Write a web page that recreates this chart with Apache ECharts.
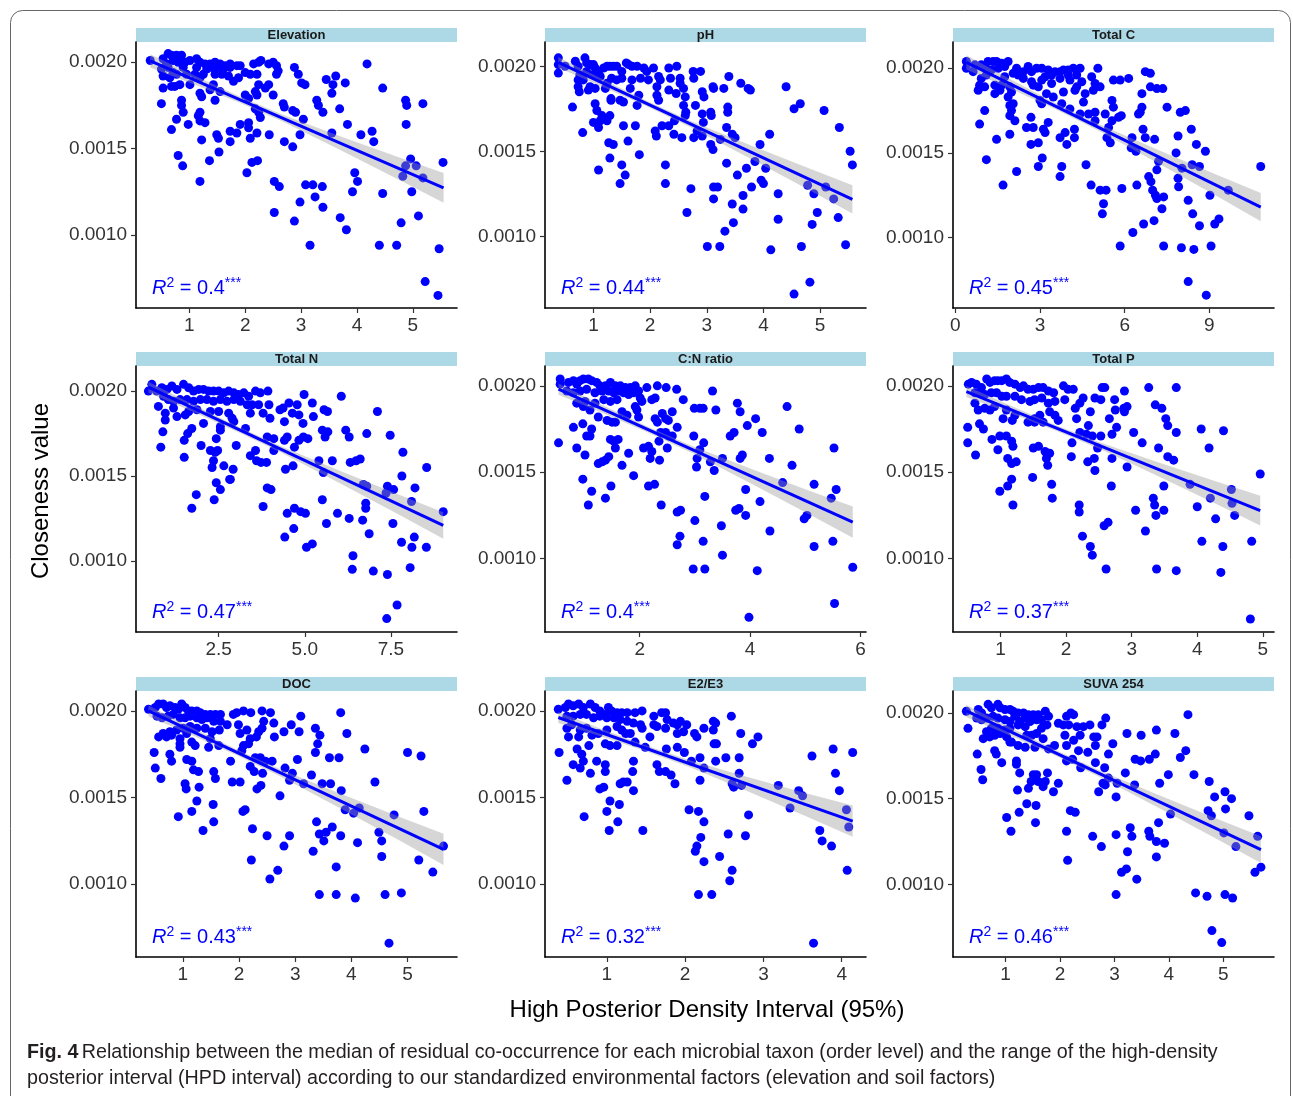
<!DOCTYPE html>
<html>
<head>
<meta charset="utf-8">
<script src="https://cdn.jsdelivr.net/npm/echarts@6/dist/echarts.min.js"></script>
<style>
html,body{margin:0;padding:0;background:#fff}
#main{width:1293px;height:1096px}
</style>
</head>
<body>
<div id="main"></div>
<script>
// ---- data: [HPD interval, closeness value] ----
var elevationPts = [[0.30,0.00201],[0.53,0.00202],[0.62,0.00205],[0.68,0.00204],[0.77,0.00204],[0.86,0.00204],[0.71,0.00201],[0.59,0.00199],[0.80,0.00200],[0.92,0.00200],[1.01,0.00201],[1.13,0.00202],[1.19,0.00200],[1.28,0.00199],[1.37,0.00199],[1.46,0.00200],[1.55,0.00199],[1.64,0.00198],[1.73,0.00199],[1.85,0.00198],[1.91,0.00198],[2.00,0.00194],[2.09,0.00193],[2.15,0.00199],[2.24,0.00200],[2.28,0.00201],[2.42,0.00199],[2.50,0.00200],[2.56,0.00198],[2.59,0.00195],[0.50,0.00196],[0.53,0.00192],[0.65,0.00191],[0.74,0.00186],[0.83,0.00187],[0.95,0.00193],[1.01,0.00187],[1.10,0.00193],[1.19,0.00191],[1.25,0.00193],[1.40,0.00197],[1.46,0.00193],[1.58,0.00193],[1.70,0.00192],[1.79,0.00189],[1.88,0.00191],[1.43,0.00187],[1.37,0.00184],[1.55,0.00183],[1.19,0.00182],[1.22,0.00180],[0.71,0.00194],[0.89,0.00197],[0.77,0.00193],[0.62,0.00197],[1.13,0.00197],[1.31,0.00196],[1.49,0.00197],[1.61,0.00196],[1.73,0.00197],[2.21,0.00193],[2.24,0.00187],[2.18,0.00183],[2.21,0.00181],[2.36,0.00185],[2.42,0.00187],[2.56,0.00193],[0.53,0.00185],[0.68,0.00186],
[0.50,0.00176],[0.86,0.00178],[0.86,0.00175],[0.89,0.00171],[0.77,0.00167],[0.68,0.00161],[0.98,0.00164],[1.19,0.00171],[1.16,0.00169],[1.19,0.00166],[1.28,0.00165],[1.22,0.00155],[1.46,0.00178],[1.49,0.00158],[1.52,0.00156],[1.73,0.00160],[1.85,0.00159],[1.73,0.00154],[1.91,0.00164],[2.06,0.00165],[2.06,0.00162],[2.09,0.00156],[2.21,0.00159],[2.00,0.00181],[2.06,0.00179],[2.18,0.00173],[2.24,0.00171],[2.27,0.00168],[2.43,0.00158],[2.50,0.00181],[2.68,0.00176],[2.70,0.00174],[2.70,0.00154],[2.85,0.00172],[2.90,0.00171],[2.85,0.00151],[2.98,0.00158],[3.04,0.00167],[2.88,0.00197],[2.95,0.00193],[3.01,0.00188],[3.07,0.00187],[3.28,0.00178],[3.31,0.00175],[3.39,0.00171],[3.45,0.00190],[3.55,0.00182],[3.57,0.00187],[3.62,0.00192],[3.69,0.00173],[3.79,0.00188],[3.55,0.00159],[3.83,0.00164],[4.07,0.00158],[4.27,0.00160],[4.30,0.00154],[4.18,0.00199],[4.46,0.00185],[4.87,0.00178],[4.89,0.00175],[5.18,0.00176],[4.88,0.00164],
[0.80,0.00146],[0.88,0.00140],[1.36,0.00143],[1.53,0.00148],[1.19,0.00131],[2.03,0.00136],[2.12,0.00142],[2.22,0.00143],[2.52,0.00131],[2.61,0.00128],[2.52,0.00113],[2.98,0.00119],[3.08,0.00129],[3.21,0.00129],[3.25,0.00122],[3.38,0.00128],[3.39,0.00116],[2.88,0.00108],[3.16,0.00094],[3.70,0.00110],[3.81,0.00103],[3.96,0.00136],[4.01,0.00131],[3.92,0.00125],[4.46,0.00124],[4.40,0.00094],[4.71,0.00094],[4.79,0.00107],[4.82,0.00134],[4.87,0.00140],[4.96,0.00144],[5.06,0.00140],[4.98,0.00125],[5.18,0.00133],[5.10,0.00111],[5.54,0.00142],[5.47,0.00092],[5.22,0.00073],[5.45,0.00065]];

var phPts = [[0.38,0.00205],[0.38,0.00201],[0.38,0.00196],[0.50,0.00200],[0.68,0.00203],[0.73,0.00200],[0.85,0.00205],[0.88,0.00202],[0.94,0.00201],[1.00,0.00201],[1.03,0.00199],[1.09,0.00197],[0.88,0.00197],[0.76,0.00195],[0.73,0.00192],[0.73,0.00188],[0.75,0.00185],[0.91,0.00186],[0.94,0.00188],[0.82,0.00192],[1.00,0.00195],[1.12,0.00194],[1.18,0.00199],[1.24,0.00200],[1.29,0.00200],[1.35,0.00200],[1.41,0.00200],[1.50,0.00197],[1.58,0.00202],[1.62,0.00201],[1.68,0.00200],[1.77,0.00200],[1.89,0.00199],[1.94,0.00197],[2.06,0.00199],[1.97,0.00192],[1.83,0.00193],[1.68,0.00192],[1.65,0.00187],[1.50,0.00193],[1.41,0.00192],[1.32,0.00193],[1.24,0.00190],[1.21,0.00187],[1.03,0.00187],[2.33,0.00199],[2.47,0.00200],[2.76,0.00197],[2.89,0.00197],[2.15,0.00194],[2.18,0.00192],[2.36,0.00193],[2.53,0.00193],[2.53,0.00190],[2.33,0.00186],[2.12,0.00188],[2.77,0.00193],[2.46,0.00184],[2.59,0.00187],[2.62,0.00182],[2.59,0.00177],[2.12,0.00183],[2.15,0.00180],[1.53,0.00179],[1.47,0.00180],[1.31,0.00180],[1.31,0.00181],[1.80,0.00183],[1.77,0.00177],
[0.63,0.00176],[1.03,0.00178],[1.06,0.00174],[1.15,0.00171],[1.12,0.00168],[1.24,0.00168],[1.29,0.00171],[1.00,0.00167],[1.09,0.00164],[0.81,0.00161],[1.53,0.00165],[1.74,0.00165],[1.27,0.00155],[1.35,0.00154],[1.61,0.00156],[2.09,0.00162],[2.11,0.00159],[2.21,0.00165],[2.33,0.00165],[2.43,0.00168],[2.42,0.00160],[2.56,0.00158],[2.63,0.00173],[2.62,0.00171],[2.80,0.00177],[2.83,0.00162],[2.77,0.00158],[2.92,0.00185],[2.95,0.00182],[2.92,0.00172],[3.07,0.00173],[3.08,0.00171],[2.94,0.00167],[2.92,0.00159],[3.07,0.00154],[3.11,0.00151],[3.11,0.00188],[3.12,0.00187],[3.30,0.00187],[3.39,0.00194],[3.60,0.00190],[3.73,0.00187],[3.77,0.00186],[3.37,0.00176],[3.37,0.00173],[3.35,0.00164],[3.24,0.00157],[3.45,0.00160],[3.50,0.00158],[4.11,0.00160],[3.94,0.00154],[4.40,0.00188],[4.54,0.00175],[4.65,0.00178],[5.07,0.00174],[5.34,0.00164],[5.53,0.00150],[5.57,0.00142],
[1.09,0.00139],[1.29,0.00146],[1.50,0.00142],[1.56,0.00136],[1.47,0.00131],[1.81,0.00148],[2.27,0.00142],[2.27,0.00131],[2.65,0.00114],[2.72,0.00128],[3.12,0.00129],[3.19,0.00129],[3.12,0.00122],[3.35,0.00143],[3.54,0.00136],[3.70,0.00140],[3.45,0.00119],[3.64,0.00124],[3.64,0.00116],[3.47,0.00108],[3.32,0.00103],[3.79,0.00129],[3.85,0.00144],[4.04,0.00140],[3.96,0.00133],[4.00,0.00131],[4.26,0.00125],[4.26,0.00110],[4.78,0.00130],[4.89,0.00125],[5.10,0.00129],[5.24,0.00122],[4.95,0.00114],[4.86,0.00107],[5.32,0.00111],[3.01,0.00094],[3.23,0.00094],[4.13,0.00092],[4.67,0.00094],[5.45,0.00095],[4.82,0.00073],[4.54,0.00066]];

var totalCPts = [[0.39,0.00204],[0.39,0.00200],[0.63,0.00198],[0.69,0.00202],[0.92,0.00202],[1.04,0.00201],[1.16,0.00204],[1.34,0.00204],[1.46,0.00204],[1.64,0.00203],[1.87,0.00204],[1.75,0.00201],[1.52,0.00200],[1.28,0.00199],[1.10,0.00196],[0.92,0.00194],[0.86,0.00190],[0.81,0.00187],[1.04,0.00189],[1.40,0.00190],[1.40,0.00185],[1.58,0.00187],[1.64,0.00190],[1.93,0.00189],[1.99,0.00186],[1.87,0.00183],[1.93,0.00178],[2.05,0.00179],[1.99,0.00175],[1.93,0.00172],[2.11,0.00169],[1.75,0.00195],[2.05,0.00197],[2.17,0.00200],[2.23,0.00196],[2.41,0.00198],[2.58,0.00201],[2.70,0.00198],[2.88,0.00200],[3.06,0.00200],[3.29,0.00199],[3.53,0.00198],[3.71,0.00198],[3.83,0.00199],[4.00,0.00199],[4.18,0.00200],[4.42,0.00200],[4.30,0.00196],[4.00,0.00196],[3.71,0.00194],[3.41,0.00191],[3.06,0.00193],[2.70,0.00192],[2.41,0.00194],[2.76,0.00190],[2.94,0.00189],[3.18,0.00195],[3.41,0.00196],[3.83,0.00186],[4.06,0.00193],[4.30,0.00189],[4.24,0.00187],[4.48,0.00192],[4.60,0.00185],[4.54,0.00180],[4.83,0.00195],[4.95,0.00191],[5.13,0.00189],[4.89,0.00187],[5.05,0.00200],[3.23,0.00185],[3.47,0.00183],[3.00,0.00181],[3.06,0.00179],[3.77,0.00179],[4.06,0.00176],[4.42,0.00173],[4.72,0.00173],[4.95,0.00174],[4.95,0.00169],[5.31,0.00173],[5.60,0.00193],[5.84,0.00193],[6.14,0.00194],[6.73,0.00198],[6.91,0.00197],[6.91,0.00189],[7.14,0.00188],[7.35,0.00188],[6.61,0.00185],[5.55,0.00181],[5.60,0.00177],[5.55,0.00169],[5.78,0.00171],[5.88,0.00172],
[1.04,0.00175],[0.86,0.00167],[1.46,0.00158],[1.93,0.00161],[2.68,0.00171],[2.52,0.00165],[2.76,0.00165],[3.12,0.00164],[3.18,0.00162],[3.29,0.00168],[2.68,0.00155],[2.94,0.00156],[3.71,0.00159],[3.89,0.00162],[3.95,0.00155],[4.22,0.00164],[4.22,0.00159],[5.37,0.00159],[5.49,0.00156],[5.43,0.00165],[6.26,0.00159],[6.23,0.00153],[6.40,0.00151],[6.49,0.00173],[6.55,0.00174],[6.61,0.00177],[6.65,0.00164],[6.73,0.00159],[7.06,0.00158],[7.50,0.00177],[7.97,0.00174],[8.15,0.00175],[7.89,0.00160],[8.36,0.00164],[7.82,0.00150],[7.20,0.00145],[7.14,0.00140],[8.54,0.00155],[8.86,0.00151],[8.03,0.00141],[8.39,0.00143],[8.65,0.00142],[10.82,0.00142],
[1.10,0.00146],[2.17,0.00139],[2.94,0.00142],[3.08,0.00147],[3.77,0.00142],[3.71,0.00136],[1.69,0.00131],[4.63,0.00143],[4.81,0.00131],[5.13,0.00128],[5.34,0.00128],[5.25,0.00120],[5.21,0.00114],[5.90,0.00129],[6.43,0.00131],[6.85,0.00136],[6.93,0.00133],[6.99,0.00128],[7.09,0.00125],[7.14,0.00123],[7.38,0.00124],[7.32,0.00117],[7.89,0.00135],[7.91,0.00130],[8.25,0.00122],[8.41,0.00114],[8.65,0.00107],[9.02,0.00125],[9.19,0.00108],[9.34,0.00111],[9.67,0.00128],[6.67,0.00108],[6.29,0.00103],[7.04,0.00110],[5.84,0.00095],[7.38,0.00095],[8.01,0.00094],[8.45,0.00093],[9.06,0.00095],[8.25,0.00074],[8.89,0.00066]];

var totalNPts = [[0.46,0.00200],[0.56,0.00204],[0.70,0.00200],[0.85,0.00202],[1.00,0.00201],[1.14,0.00203],[1.29,0.00201],[1.48,0.00204],[1.63,0.00202],[1.77,0.00200],[1.92,0.00201],[2.06,0.00201],[2.21,0.00200],[2.35,0.00200],[2.50,0.00200],[2.65,0.00199],[2.79,0.00200],[2.94,0.00199],[3.08,0.00198],[3.23,0.00199],[3.37,0.00197],[3.57,0.00200],[3.71,0.00199],[3.93,0.00200],[0.90,0.00197],[1.04,0.00195],[1.19,0.00194],[1.38,0.00195],[1.58,0.00195],[1.77,0.00194],[1.97,0.00195],[2.16,0.00195],[2.35,0.00194],[2.55,0.00195],[2.74,0.00194],[2.94,0.00195],[3.13,0.00194],[3.33,0.00192],[3.47,0.00192],[3.66,0.00192],[3.79,0.00187],[0.75,0.00191],[0.95,0.00187],[0.95,0.00183],[1.19,0.00190],[1.29,0.00185],[1.53,0.00186],[1.63,0.00188],[1.87,0.00189],[2.06,0.00181],[2.26,0.00188],[2.50,0.00188],[2.79,0.00187],[2.89,0.00184],[2.94,0.00182],[2.55,0.00179],[2.55,0.00177],[3.28,0.00178],[3.42,0.00187],[3.96,0.00192],[3.99,0.00184],[4.28,0.00189],[4.37,0.00190],[4.54,0.00193],[4.78,0.00192],[4.64,0.00187],[4.83,0.00186],[4.41,0.00182],[4.98,0.00198],[5.22,0.00193],[5.56,0.00189],[5.66,0.00188],[5.25,0.00185],[6.06,0.00197],[7.11,0.00188],
[0.88,0.00176],[0.82,0.00167],[1.50,0.00171],[1.60,0.00175],[1.72,0.00178],[1.50,0.00161],[1.99,0.00168],[2.26,0.00165],[2.31,0.00155],[2.35,0.00159],[2.40,0.00164],[2.47,0.00165],[2.43,0.00172],[2.65,0.00156],[2.92,0.00154],[3.01,0.00168],[2.84,0.00148],[3.42,0.00162],[3.57,0.00165],[3.60,0.00159],[3.73,0.00158],[3.89,0.00158],[3.91,0.00173],[4.10,0.00172],[4.10,0.00165],[4.41,0.00171],[4.49,0.00173],[4.70,0.00167],[4.44,0.00154],[4.66,0.00156],[4.83,0.00171],[4.96,0.00173],[5.09,0.00172],[4.95,0.00181],[5.51,0.00177],[5.67,0.00176],[5.59,0.00173],[5.54,0.00152],[5.41,0.00159],[5.80,0.00159],[6.19,0.00177],[6.29,0.00173],[6.32,0.00158],[6.49,0.00159],[6.61,0.00160],[6.80,0.00175],[7.48,0.00174],[7.85,0.00164],[8.54,0.00155],[7.82,0.00150],
[1.85,0.00139],[1.72,0.00131],[2.37,0.00136],[2.43,0.00146],[2.55,0.00142],[2.82,0.00148],[3.91,0.00143],[4.02,0.00142],[3.79,0.00132],[4.49,0.00128],[4.70,0.00131],[4.88,0.00129],[5.02,0.00128],[4.42,0.00114],[4.68,0.00119],[5.05,0.00108],[5.22,0.00110],[5.51,0.00136],[5.63,0.00122],[5.95,0.00128],[6.29,0.00125],[6.68,0.00124],[6.70,0.00145],[6.80,0.00144],[6.77,0.00134],[6.77,0.00131],[6.87,0.00116],[7.36,0.00140],[7.40,0.00144],[7.58,0.00142],[7.56,0.00122],[7.81,0.00111],[8.10,0.00135],[8.20,0.00143],[8.18,0.00114],[8.11,0.00108],[8.53,0.00108],[9.02,0.00129],[6.40,0.00103],[6.38,0.00095],[6.99,0.00094],[7.40,0.00092],[8.06,0.00096],[7.68,0.00074],[7.38,0.00066]];

var cnRatioPts = [[0.56,0.00204],[0.56,0.00201],[0.71,0.00202],[0.80,0.00203],[0.86,0.00201],[0.92,0.00203],[0.98,0.00204],[1.07,0.00204],[1.13,0.00203],[1.22,0.00202],[1.28,0.00200],[1.38,0.00200],[1.47,0.00202],[1.56,0.00200],[1.65,0.00200],[1.74,0.00199],[1.83,0.00199],[1.92,0.00200],[0.68,0.00197],[0.80,0.00196],[0.92,0.00197],[1.04,0.00198],[1.19,0.00196],[1.32,0.00197],[1.44,0.00197],[1.53,0.00196],[1.62,0.00197],[1.71,0.00196],[1.80,0.00195],[1.89,0.00196],[1.98,0.00197],[2.01,0.00193],[2.13,0.00199],[2.32,0.00200],[2.48,0.00199],[2.67,0.00198],[2.79,0.00192],[2.28,0.00193],[2.22,0.00192],[2.04,0.00191],[1.92,0.00188],[1.95,0.00186],[0.86,0.00190],[0.98,0.00188],[1.10,0.00186],[1.01,0.00191],[1.19,0.00190],[1.35,0.00192],[1.47,0.00191],[1.59,0.00192],[1.68,0.00185],[1.77,0.00183],[1.25,0.00182],[1.41,0.00180],[1.50,0.00179],[1.56,0.00179],[1.98,0.00182],[2.28,0.00181],[2.32,0.00179],[2.47,0.00181],[2.52,0.00180],[2.41,0.00184],[2.59,0.00185],[3.32,0.00197],[2.99,0.00187],[3.09,0.00187],[3.15,0.00187],[3.38,0.00186],[3.77,0.00190],[3.82,0.00185],[4.10,0.00181],[3.95,0.00177],[4.22,0.00173],[4.67,0.00188],[4.89,0.00175],
[0.53,0.00167],[0.86,0.00164],[0.80,0.00176],[0.97,0.00178],[1.13,0.00175],[1.10,0.00171],[1.04,0.00171],[1.01,0.00160],[1.25,0.00155],[1.32,0.00156],[1.38,0.00157],[1.44,0.00159],[1.47,0.00169],[1.53,0.00168],[1.56,0.00164],[1.61,0.00169],[1.68,0.00154],[1.80,0.00161],[1.89,0.00148],[2.07,0.00164],[2.16,0.00165],[2.22,0.00162],[2.19,0.00158],[2.36,0.00157],[2.38,0.00173],[2.35,0.00168],[2.47,0.00173],[2.53,0.00171],[2.59,0.00171],[2.68,0.00176],[2.50,0.00164],[2.98,0.00171],[3.16,0.00167],[3.09,0.00163],[3.04,0.00158],[3.03,0.00153],[3.28,0.00156],[3.35,0.00151],[3.50,0.00158],[3.64,0.00171],[3.71,0.00173],[3.82,0.00158],[3.86,0.00160],[4.35,0.00158],[4.76,0.00154],[5.52,0.00164],
[0.97,0.00146],[1.13,0.00139],[1.07,0.00131],[1.38,0.00135],[1.48,0.00142],[2.16,0.00142],[2.27,0.00143],[2.39,0.00131],[2.68,0.00127],[2.74,0.00128],[3.00,0.00122],[3.18,0.00136],[3.48,0.00119],[3.15,0.00110],[2.68,0.00108],[2.73,0.00113],[3.50,0.00102],[3.74,0.00128],[3.80,0.00129],[3.92,0.00125],[3.92,0.00140],[4.18,0.00133],[4.36,0.00116],[4.59,0.00144],[4.98,0.00123],[5.03,0.00125],[5.16,0.00143],[5.56,0.00140],[5.47,0.00135],[5.50,0.00110],[5.16,0.00107],[2.97,0.00094],[3.18,0.00094],[4.13,0.00093],[5.86,0.00095],[5.53,0.00074],[3.98,0.00066]];

var totalPPts = [[0.51,0.00201],[0.56,0.00202],[0.63,0.00201],[0.71,0.00199],[0.79,0.00204],[0.84,0.00202],[0.91,0.00203],[0.96,0.00203],[1.02,0.00203],[1.09,0.00204],[1.14,0.00202],[1.22,0.00201],[1.30,0.00199],[1.35,0.00200],[1.42,0.00198],[1.50,0.00198],[1.58,0.00199],[1.65,0.00199],[1.73,0.00197],[1.81,0.00196],[1.96,0.00200],[2.03,0.00198],[2.11,0.00198],[0.61,0.00196],[0.68,0.00196],[0.76,0.00195],[0.86,0.00196],[0.94,0.00196],[1.02,0.00194],[1.09,0.00194],[1.22,0.00194],[1.32,0.00192],[1.45,0.00191],[1.52,0.00192],[1.63,0.00193],[1.73,0.00190],[1.83,0.00191],[1.98,0.00192],[2.14,0.00187],[2.21,0.00190],[2.26,0.00193],[2.44,0.00193],[2.53,0.00192],[2.55,0.00199],[2.59,0.00199],[2.74,0.00192],[2.89,0.00197],[0.61,0.00190],[0.66,0.00186],[0.76,0.00187],[0.84,0.00186],[0.91,0.00188],[1.09,0.00186],[1.22,0.00183],[1.45,0.00180],[1.52,0.00181],[1.60,0.00183],[1.65,0.00179],[1.75,0.00185],[1.83,0.00183],[1.88,0.00180],[1.52,0.00179],[1.42,0.00179],[1.04,0.00181],[1.18,0.00180],[2.16,0.00181],[2.21,0.00173],[2.31,0.00172],[2.37,0.00185],[2.34,0.00177],[2.40,0.00171],[2.53,0.00171],[2.66,0.00181],[2.75,0.00186],[2.77,0.00176],[2.70,0.00172],[2.88,0.00187],[2.93,0.00188],[2.89,0.00185],[3.26,0.00199],[3.36,0.00189],[3.46,0.00187],[3.52,0.00181],[3.55,0.00177],[3.68,0.00199],[3.68,0.00173],
[0.50,0.00176],[0.50,0.00167],[0.62,0.00160],[0.68,0.00178],[0.74,0.00175],[0.87,0.00169],[0.96,0.00163],[0.99,0.00171],[1.09,0.00171],[1.17,0.00168],[1.19,0.00165],[1.11,0.00158],[1.17,0.00155],[1.24,0.00156],[1.50,0.00164],[1.58,0.00165],[1.68,0.00162],[1.75,0.00161],[1.70,0.00158],[1.72,0.00154],[2.09,0.00167],[2.08,0.00159],[2.33,0.00156],[2.43,0.00158],[2.44,0.00151],[2.48,0.00164],[2.70,0.00158],[2.93,0.00153],[3.03,0.00173],[3.16,0.00167],[3.41,0.00164],[3.55,0.00159],[3.64,0.00157],[4.06,0.00175],[4.18,0.00164],[4.40,0.00174],[4.96,0.00149],
[0.99,0.00139],[1.11,0.00142],[1.17,0.00146],[1.19,0.00131],[1.49,0.00147],[1.78,0.00143],[1.79,0.00135],[2.20,0.00131],[2.20,0.00127],[2.25,0.00113],[2.37,0.00107],[2.40,0.00102],[2.69,0.00142],[2.58,0.00119],[2.64,0.00121],[3.06,0.00128],[3.21,0.00116],[3.33,0.00135],[3.35,0.00131],[3.37,0.00125],[3.49,0.00128],[3.49,0.00142],[3.89,0.00143],[4.00,0.00130],[4.20,0.00135],[4.28,0.00123],[4.52,0.00140],[4.53,0.00132],[4.57,0.00125],[4.07,0.00110],[4.39,0.00107],[4.83,0.00110],[2.61,0.00094],[3.38,0.00094],[3.68,0.00093],[4.36,0.00092],[4.81,0.00065]];

var docPts = [[0.39,0.00201],[0.51,0.00202],[0.57,0.00204],[0.65,0.00204],[0.71,0.00202],[0.77,0.00203],[0.86,0.00202],[0.92,0.00201],[0.98,0.00204],[1.04,0.00202],[1.10,0.00200],[1.16,0.00200],[1.25,0.00200],[1.31,0.00199],[1.40,0.00198],[1.49,0.00198],[1.58,0.00198],[1.67,0.00198],[0.54,0.00197],[0.63,0.00196],[0.74,0.00197],[0.83,0.00198],[0.95,0.00196],[1.04,0.00196],[1.13,0.00197],[1.25,0.00196],[1.34,0.00195],[1.43,0.00196],[1.55,0.00194],[1.67,0.00194],[1.79,0.00192],[1.90,0.00198],[1.96,0.00199],[2.08,0.00200],[2.21,0.00199],[2.41,0.00200],[2.56,0.00199],[2.44,0.00194],[2.62,0.00193],[1.99,0.00192],[2.14,0.00189],[2.02,0.00187],[1.65,0.00189],[1.52,0.00188],[1.40,0.00190],[1.25,0.00190],[1.13,0.00191],[1.01,0.00190],[0.89,0.00189],[0.77,0.00188],[0.65,0.00187],[0.57,0.00185],[0.71,0.00185],[0.80,0.00186],[0.95,0.00184],[1.07,0.00187],[1.16,0.00182],[1.22,0.00180],[1.49,0.00184],[1.64,0.00180],[1.46,0.00179],[1.16,0.00171],[1.19,0.00166],[1.28,0.00165],[0.95,0.00181],[0.95,0.00179],[1.07,0.00172],[1.55,0.00165],[1.58,0.00161],[1.85,0.00171],[1.88,0.00159],[2.02,0.00159],[2.05,0.00177],[2.08,0.00180],[2.17,0.00181],[2.20,0.00184],[2.31,0.00185],[2.35,0.00188],[2.41,0.00190],[2.63,0.00185],[2.80,0.00188],[2.93,0.00192],[3.07,0.00188],[3.10,0.00197],[3.36,0.00190],[3.44,0.00186],[3.40,0.00181],[3.36,0.00176],[3.81,0.00199],[3.92,0.00187],[2.29,0.00173],[2.38,0.00173],[2.47,0.00171],[2.59,0.00171],[2.20,0.00168],[2.27,0.00165],[2.42,0.00164],[2.32,0.00155],[2.39,0.00157],[2.82,0.00167],[2.95,0.00164],[2.90,0.00160],[3.15,0.00158],[3.29,0.00163],[3.61,0.00173],[3.78,0.00173],[3.48,0.00158],[3.63,0.00158],[3.82,0.00154],[4.24,0.00178],[4.42,0.00159],[5.00,0.00176],[5.24,0.00174],[2.73,0.00151],[3.04,0.00172],
[0.49,0.00176],[0.51,0.00167],[0.61,0.00161],[0.77,0.00175],[0.80,0.00171],[1.04,0.00158],[1.06,0.00155],[1.29,0.00156],[1.25,0.00148],[1.16,0.00142],[0.92,0.00139],[1.36,0.00131],[1.54,0.00146],[1.55,0.00136],[2.07,0.00142],[2.11,0.00143],[2.24,0.00132],[2.50,0.00128],[2.90,0.00128],[2.80,0.00122],[2.22,0.00114],[2.55,0.00103],[2.69,0.00108],[3.38,0.00136],[3.43,0.00129],[3.51,0.00125],[3.55,0.00130],[3.66,0.00133],[3.81,0.00128],[3.73,0.00110],[3.32,0.00119],[3.89,0.00143],[4.04,0.00141],[4.14,0.00144],[4.11,0.00124],[4.49,0.00130],[4.54,0.00125],[4.54,0.00116],[4.76,0.00140],[5.29,0.00142],[5.20,0.00114],[5.45,0.00107],[5.64,0.00122],[3.43,0.00094],[3.73,0.00094],[4.07,0.00092],[4.60,0.00094],[4.89,0.00095],[4.67,0.00066]];

var e2e3Pts = [[0.38,0.00201],[0.47,0.00202],[0.51,0.00204],[0.57,0.00203],[0.64,0.00204],[0.70,0.00202],[0.79,0.00204],[0.85,0.00202],[0.91,0.00200],[0.98,0.00198],[1.02,0.00202],[1.06,0.00200],[1.13,0.00199],[1.19,0.00199],[1.26,0.00199],[1.36,0.00199],[1.45,0.00200],[0.49,0.00197],[0.57,0.00197],[0.66,0.00198],[0.74,0.00198],[0.83,0.00196],[0.91,0.00197],[1.00,0.00196],[1.09,0.00196],[1.17,0.00195],[1.26,0.00194],[1.34,0.00193],[1.43,0.00192],[1.45,0.00190],[1.60,0.00197],[1.60,0.00192],[1.70,0.00199],[1.75,0.00199],[1.77,0.00195],[1.64,0.00191],[1.75,0.00190],[1.85,0.00193],[1.90,0.00192],[1.94,0.00194],[2.02,0.00192],[1.98,0.00188],[1.90,0.00187],[2.12,0.00187],[2.15,0.00185],[2.24,0.00190],[2.36,0.00194],[2.39,0.00193],[2.36,0.00189],[2.59,0.00197],[0.49,0.00190],[0.55,0.00192],[0.51,0.00185],[0.64,0.00185],[0.66,0.00189],[0.74,0.00190],[0.81,0.00186],[0.89,0.00187],[1.00,0.00189],[1.13,0.00191],[1.19,0.00189],[1.24,0.00187],[1.30,0.00187],[1.36,0.00182],[0.98,0.00181],[1.04,0.00180],[1.13,0.00180],[0.62,0.00178],[0.77,0.00180],[0.68,0.00175],[0.70,0.00171],[0.57,0.00169],[0.66,0.00167],[0.79,0.00164],[0.87,0.00171],[0.98,0.00169],[0.98,0.00165],[1.34,0.00171],[1.33,0.00165],[1.21,0.00159],[1.17,0.00158],[1.26,0.00159],[1.34,0.00154],[1.49,0.00179],[1.55,0.00185],[1.64,0.00169],[1.67,0.00165],[1.75,0.00165],[1.76,0.00178],[1.82,0.00163],[1.87,0.00158],[1.90,0.00179],[1.99,0.00176],[2.08,0.00171],[2.19,0.00173],[2.24,0.00167],[2.19,0.00160],[2.37,0.00181],[2.40,0.00181],[2.39,0.00171],[2.52,0.00173],[2.69,0.00173],[2.69,0.00164],[2.60,0.00158],[2.62,0.00156],[2.72,0.00157],[2.71,0.00187],[2.86,0.00181],[2.93,0.00185],[3.19,0.00157],[3.45,0.00154],[3.50,0.00151],[3.34,0.00144],[3.62,0.00174],[3.89,0.00178],[3.92,0.00164],[3.97,0.00154],[4.14,0.00176],[4.06,0.00143],[4.09,0.00133],
[0.39,0.00176],[0.49,0.00160],[0.71,0.00139],[0.91,0.00155],[0.96,0.00156],[1.00,0.00142],[1.04,0.00148],[1.16,0.00146],[1.03,0.00131],[1.14,0.00136],[1.46,0.00131],[2.05,0.00143],[2.17,0.00142],[2.24,0.00136],[2.20,0.00127],[2.15,0.00122],[2.13,0.00119],[2.24,0.00113],[2.44,0.00116],[2.55,0.00129],[2.60,0.00108],[2.57,0.00102],[2.77,0.00128],[2.81,0.00140],[3.72,0.00131],[3.75,0.00125],[3.87,0.00122],[4.07,0.00108],[2.17,0.00094],[2.34,0.00094],[3.64,0.00066]];

var suvaPts = [[0.28,0.00201],[0.31,0.00191],[0.50,0.00202],[0.56,0.00200],[0.68,0.00205],[0.74,0.00203],[0.86,0.00205],[0.90,0.00203],[0.99,0.00202],[1.08,0.00202],[1.14,0.00201],[1.23,0.00200],[1.33,0.00200],[1.42,0.00199],[1.51,0.00199],[1.60,0.00199],[1.73,0.00201],[1.79,0.00198],[0.47,0.00197],[0.56,0.00196],[0.65,0.00197],[0.77,0.00198],[0.86,0.00197],[0.99,0.00196],[1.08,0.00195],[1.17,0.00198],[1.26,0.00195],[1.36,0.00197],[1.45,0.00195],[1.57,0.00196],[1.66,0.00196],[1.76,0.00193],[1.66,0.00191],[1.57,0.00188],[1.48,0.00187],[1.36,0.00192],[1.23,0.00193],[1.08,0.00191],[0.99,0.00190],[0.86,0.00191],[0.74,0.00191],[0.65,0.00189],[0.59,0.00185],[0.71,0.00186],[0.80,0.00187],[0.90,0.00188],[1.02,0.00186],[1.11,0.00183],[1.23,0.00181],[1.36,0.00180],[1.39,0.00187],[1.54,0.00180],[1.69,0.00185],[1.79,0.00179],[1.90,0.00181],[1.97,0.00194],[2.06,0.00193],[2.12,0.00198],[2.20,0.00200],[2.25,0.00199],[2.16,0.00193],[2.09,0.00187],[2.12,0.00181],[2.25,0.00184],[2.31,0.00192],[2.37,0.00187],[2.43,0.00192],[2.55,0.00193],[2.62,0.00186],[2.65,0.00181],[2.68,0.00186],[2.77,0.00193],[2.84,0.00197],[2.51,0.00177],[2.34,0.00178],[0.48,0.00176],[0.55,0.00167],[0.58,0.00161],[0.80,0.00178],[0.83,0.00176],[0.93,0.00171],[1.08,0.00183],[1.20,0.00172],[1.20,0.00170],[1.26,0.00165],[1.22,0.00155],[1.42,0.00156],[1.47,0.00160],[1.51,0.00164],[1.57,0.00164],[1.60,0.00160],[1.73,0.00160],[1.69,0.00157],[1.77,0.00165],[1.88,0.00154],[1.97,0.00159],[2.12,0.00172],[2.23,0.00173],[2.38,0.00168],[2.65,0.00171],[2.82,0.00168],[2.89,0.00176],[2.97,0.00182],[2.79,0.00159],[2.71,0.00154],[2.83,0.00158],[2.89,0.00162],[3.05,0.00159],[3.03,0.00151],[3.20,0.00165],[3.37,0.00158],[3.23,0.00188],[3.49,0.00187],[3.38,0.00173],[3.48,0.00172],[3.64,0.00173],[3.75,0.00176],[3.77,0.00190],[3.83,0.00159],[3.99,0.00164],[4.11,0.00188],[4.21,0.00174],[4.31,0.00178],[4.46,0.00164],[4.74,0.00160],[4.84,0.00151],[5.03,0.00154],[5.15,0.00150],[4.35,0.00199],
[1.02,0.00139],[1.10,0.00131],[1.25,0.00142],[1.39,0.00147],[1.56,0.00146],[1.55,0.00136],[2.12,0.00131],[2.14,0.00114],[2.19,0.00143],[2.28,0.00142],[2.60,0.00128],[2.76,0.00122],[3.03,0.00129],[3.24,0.00119],[3.29,0.00133],[3.32,0.00128],[3.63,0.00131],[3.65,0.00128],[3.77,0.00125],[3.81,0.00136],[3.92,0.00124],[3.77,0.00116],[3.13,0.00107],[3.22,0.00109],[3.41,0.00103],[4.03,0.00141],[4.72,0.00143],[4.78,0.00140],[5.01,0.00130],[5.04,0.00144],[5.23,0.00122],[5.47,0.00140],[5.63,0.00128],[5.58,0.00107],[5.69,0.00110],[3.03,0.00094],[4.49,0.00095],[4.70,0.00093],[5.03,0.00094],[5.17,0.00092],[4.79,0.00073],[4.97,0.00066]];

var panelNames = ['Elevation', 'pH', 'Total C', 'Total N', 'C:N ratio', 'Total P', 'DOC', 'E2/E3', 'SUVA 254'];
var panelPoints = [elevationPts, phPts, totalCPts, totalNPts, cnRatioPts, totalPPts, docPts, e2e3Pts, suvaPts];
var r2Labels = ['0.4', '0.44', '0.45', '0.47', '0.4', '0.37', '0.43', '0.32', '0.46'];

// fitted line ends [x0, y0, x1, y1]
var fitLines = [
  [0.30, 0.002008, 5.55, 0.001273],
  [0.38, 0.002023, 5.57, 0.001217],
  [0.39, 0.002035, 10.82, 0.001180],
  [0.46, 0.002023, 9.02, 0.001209],
  [0.53, 0.001981, 5.86, 0.001211],
  [0.48, 0.001967, 4.96, 0.001278],
  [0.39, 0.002000, 5.64, 0.001201],
  [0.38, 0.001962, 4.14, 0.001364],
  [0.28, 0.002012, 5.69, 0.001203]
];
// 95% confidence band: half width around the fit at a few x positions
var bandX = [
  [0.30, 1.09, 1.88, 2.66, 3.71, 4.76, 5.55],
  [0.38, 1.16, 1.94, 2.72, 3.75, 4.79, 5.57],
  [0.39, 1.95, 3.52, 5.08, 7.17, 9.26, 10.82],
  [0.46, 1.74, 3.03, 4.31, 6.02, 7.74, 9.02],
  [0.53, 1.33, 2.13, 2.93, 3.99, 5.06, 5.86],
  [0.48, 1.15, 1.82, 2.50, 3.39, 4.29, 4.96],
  [0.39, 1.18, 1.97, 2.75, 3.80, 4.85, 5.64],
  [0.38, 0.94, 1.51, 2.07, 2.82, 3.58, 4.14],
  [0.28, 1.09, 1.90, 2.71, 3.80, 4.88, 5.69]
];
var bandHalf = [
  [0.000038, 0.000026, 0.000018, 0.000020, 0.000040, 0.000065, 0.000086],
  [0.000032, 0.000022, 0.000016, 0.000019, 0.000039, 0.000063, 0.000083],
  [0.000042, 0.000028, 0.000018, 0.000020, 0.000039, 0.000063, 0.000083],
  [0.000032, 0.000022, 0.000016, 0.000018, 0.000037, 0.000059, 0.000078],
  [0.000032, 0.000022, 0.000017, 0.000020, 0.000042, 0.000068, 0.000090],
  [0.000032, 0.000022, 0.000016, 0.000019, 0.000040, 0.000065, 0.000086],
  [0.000032, 0.000022, 0.000017, 0.000020, 0.000042, 0.000068, 0.000090],
  [0.000032, 0.000022, 0.000017, 0.000020, 0.000042, 0.000068, 0.000090],
  [0.000035, 0.000024, 0.000017, 0.000019, 0.000037, 0.000059, 0.000078]
];

var xTickValues = [[1,2,3,4,5],[1,2,3,4,5],[0,3,6,9],[2.5,5,7.5],[2,4,6],[1,2,3,4,5],[1,2,3,4,5],[1,2,3,4],[1,2,3,4,5]];
var yTickValues = [0.0010, 0.0015, 0.0020];
var xRanges = [[0.045,5.79],[0.145,5.81],[-0.083,11.29],[0.10,9.42],[0.285,6.10],[0.276,5.17],[0.167,5.88],[0.21,4.31],[0.035,5.93]];
var yRanges = [[0.000577,0.002117],[0.000578,0.002143],[0.000584,0.002155],[0.000581,0.002148],[0.000575,0.002115],[0.000575,0.002115],[0.000580,0.002115],[0.000580,0.002115],[0.000576,0.002128]];

// ---- chart ----
(function () {
  var chart = echarts.init(document.getElementById('main'));
  var FONT = '"Liberation Sans", Arial, Helvetica, sans-serif';
  var colLeft = [136, 545, 953];
  var rowTop = [42, 366, 691];
  var W = 321, H = 266;

  var grids = [], xAxes = [], yAxes = [], series = [], graphics = [];

  function bandRenderer(k) {
    return function (params, api) {
      var f = fitLines[k], xs = bandX[k], hs = bandHalf[k];
      var upper = [], lower = [];
      for (var j = 0; j < xs.length; j++) {
        var yf = f[1] + (f[3] - f[1]) * (xs[j] - f[0]) / (f[2] - f[0]);
        upper.push(api.coord([xs[j], yf + hs[j]]));
        lower.unshift(api.coord([xs[j], yf - hs[j]]));
      }
      return {
        type: 'polygon',
        shape: { points: upper.concat(lower) },
        style: { fill: 'rgba(153,153,153,0.4)' }
      };
    };
  }

  for (var k = 0; k < 9; k++) {
    var gLeft = colLeft[k % 3], gTop = rowTop[Math.floor(k / 3)];
    var xDec = k === 3 ? 1 : 0;
    grids.push({ left: gLeft, top: gTop, width: W, height: H });
    xAxes.push({
      type: 'value', gridIndex: k, min: xRanges[k][0], max: xRanges[k][1],
      axisLine: { show: true, onZero: false, lineStyle: { color: '#000', width: 1.6 } },
      axisTick: { show: true, length: 5, lineStyle: { color: '#333', width: 1.2 }, customValues: xTickValues[k] },
      axisLabel: {
        customValues: xTickValues[k], margin: 8, color: '#333', fontSize: 19, fontFamily: FONT,
        formatter: (function (d) { return function (v) { return Number(v).toFixed(d); }; })(xDec)
      },
      splitLine: { show: false }
    });
    yAxes.push({
      type: 'value', gridIndex: k, min: yRanges[k][0], max: yRanges[k][1],
      axisLine: { show: true, onZero: false, lineStyle: { color: '#000', width: 1.6 } },
      axisTick: { show: true, length: 5, lineStyle: { color: '#333', width: 1.2 }, customValues: yTickValues },
      axisLabel: {
        customValues: yTickValues, margin: 9, color: '#333', fontSize: 19, fontFamily: FONT,
        formatter: function (v) { return Number(v).toFixed(4); }
      },
      splitLine: { show: false }
    });

    series.push({
      type: 'scatter', xAxisIndex: k, yAxisIndex: k, data: panelPoints[k],
      symbolSize: 9, itemStyle: { color: '#0000FF', opacity: 1 }, z: 2, silent: true
    });
    series.push({
      type: 'custom', xAxisIndex: k, yAxisIndex: k,
      data: [[fitLines[k][0], fitLines[k][1]]],
      renderItem: bandRenderer(k), z: 3, silent: true
    });
    series.push({
      type: 'line', xAxisIndex: k, yAxisIndex: k,
      data: [[fitLines[k][0], fitLines[k][1]], [fitLines[k][2], fitLines[k][3]]],
      showSymbol: false, symbol: 'none', lineStyle: { color: '#0000FF', width: 3 }, z: 4, silent: true
    });

    // facet strip
    graphics.push({
      type: 'rect', shape: { x: gLeft, y: gTop - 14, width: W, height: 14 },
      style: { fill: '#ADD8E6' }, silent: true
    });
    graphics.push({
      type: 'text', style: {
        x: gLeft + W / 2, y: gTop - 7, text: panelNames[k], align: 'center', verticalAlign: 'middle',
        font: 'bold 13px ' + FONT, fill: '#1a1a1a'
      }, silent: true
    });
    // R^2 annotation
    graphics.push({
      type: 'text', style: {
        x: gLeft + 16, y: gTop + 246, verticalAlign: 'middle',
        text: '{i|R}{s|2}{n| = ' + r2Labels[k] + '}{s|***}',
        rich: {
          i: { fontStyle: 'italic', fontSize: 20, fontFamily: FONT, fill: '#0000FF', lineHeight: 23 },
          n: { fontSize: 20, fontFamily: FONT, fill: '#0000FF', lineHeight: 23 },
          s: { fontSize: 14, fontFamily: FONT, fill: '#0000FF', verticalAlign: 'top', lineHeight: 23 }
        }
      }, silent: true
    });
  }

  // frame, axis titles, caption
  graphics.push({
    type: 'rect', shape: { x: 10.5, y: 10.5, width: 1280, height: 1100, r: 12 },
    style: { fill: 'none', stroke: '#666', lineWidth: 1 }, silent: true
  });
  graphics.push({
    type: 'text', x: 41, y: 491, rotation: Math.PI / 2,
    style: { x: 0, y: 0, text: 'Closeness value', align: 'center', verticalAlign: 'middle', font: '24px ' + FONT, fill: '#000' }
  });
  graphics.push({
    type: 'text',
    style: { x: 707, y: 1010, text: 'High Posterior Density Interval (95%)', align: 'center', verticalAlign: 'middle', font: '24px ' + FONT, fill: '#000' }
  });
  graphics.push({
    type: 'text',
    style: {
      x: 27, y: 1053, verticalAlign: 'middle',
      text: '{b|Fig. 4} {n|Relationship between the median of residual co-occurrence for each microbial taxon (order level) and the range of the high-density}',
      rich: {
        b: { fontWeight: 'bold', fontSize: 19.7, fontFamily: FONT, fill: '#231f20' },
        n: { fontSize: 19.7, fontFamily: FONT, fill: '#231f20' }
      }
    }
  });
  graphics.push({
    type: 'text',
    style: {
      x: 27, y: 1079, verticalAlign: 'middle',
      text: 'posterior interval (HPD interval) according to our standardized environmental factors (elevation and soil factors)',
      font: '19.7px ' + FONT, fill: '#231f20'
    }
  });

  chart.setOption({
    animation: false,
    backgroundColor: '#fff',
    grid: grids,
    xAxis: xAxes,
    yAxis: yAxes,
    series: series,
    graphic: { elements: graphics }
  });
})();
</script>
</body>
</html>
